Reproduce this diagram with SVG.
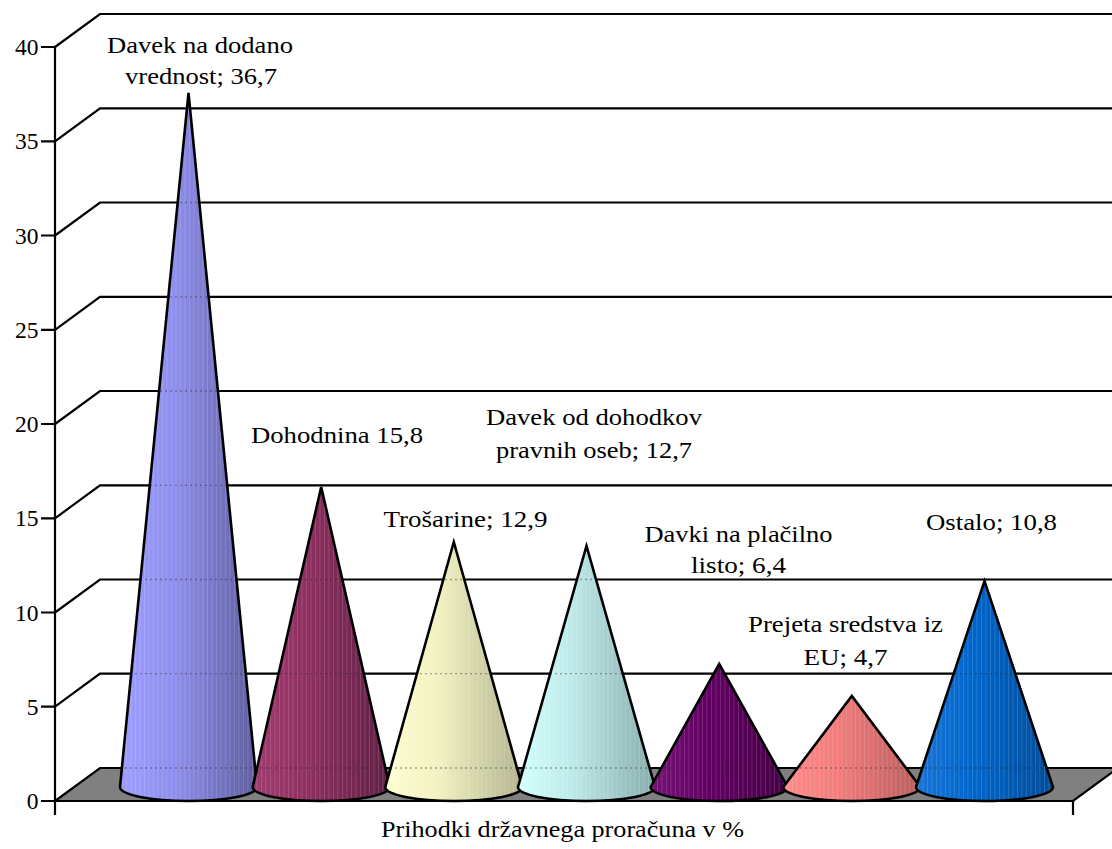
<svg xmlns="http://www.w3.org/2000/svg" xmlns:xlink="http://www.w3.org/1999/xlink" width="1112" height="849" viewBox="0 0 1112 849">
<style>
.grid{fill:none;stroke:#000;stroke-width:2.2;stroke-linejoin:miter}
.outline{fill:none;stroke:#000;stroke-width:2.6;stroke-linejoin:miter}
.lbl{font-family:"Liberation Serif","Times New Roman",serif;font-size:23.5px;fill:#000}
.ax{font-family:"Liberation Serif","Times New Roman",serif;font-size:23.5px;fill:#000;text-anchor:end}
.dots{fill:none;stroke:#222;stroke-opacity:.4;stroke-width:1.3;stroke-dasharray:2 3}
</style>
<defs>
<pattern id="stripes" patternUnits="userSpaceOnUse" width="4.5" height="10">
<rect x="0" y="0" width="0.9" height="10" fill="#fff" fill-opacity="0.15"/>
</pattern>
<path id="dotlines" d="M0,768H1112M0,673.7H1112M0,579.5H1112M0,485.3H1112M0,391H1112M0,296.8H1112M0,202.5H1112M0,108.3H1112"/>
<linearGradient id="g1" x1="0" y1="0" x2="1" y2="0"><stop offset="0" stop-color="#9e9eff"/><stop offset="0.4" stop-color="#8e8eec"/><stop offset="1" stop-color="#5e5e9e"/></linearGradient>
<linearGradient id="g2" x1="0" y1="0" x2="1" y2="0"><stop offset="0" stop-color="#a23c70"/><stop offset="0.4" stop-color="#8e3060"/><stop offset="1" stop-color="#602044"/></linearGradient>
<linearGradient id="g3" x1="0" y1="0" x2="1" y2="0"><stop offset="0" stop-color="#ffffd2"/><stop offset="0.4" stop-color="#f0f0c0"/><stop offset="1" stop-color="#b4b490"/></linearGradient>
<linearGradient id="g4" x1="0" y1="0" x2="1" y2="0"><stop offset="0" stop-color="#d4ffff"/><stop offset="0.4" stop-color="#bee9e9"/><stop offset="1" stop-color="#88adad"/></linearGradient>
<linearGradient id="g5" x1="0" y1="0" x2="1" y2="0"><stop offset="0" stop-color="#761476"/><stop offset="0.4" stop-color="#640064"/><stop offset="1" stop-color="#440044"/></linearGradient>
<linearGradient id="g6" x1="0" y1="0" x2="1" y2="0"><stop offset="0" stop-color="#ff8c8c"/><stop offset="0.4" stop-color="#f27c7c"/><stop offset="1" stop-color="#b85e5e"/></linearGradient>
<linearGradient id="g7" x1="0" y1="0" x2="1" y2="0"><stop offset="0" stop-color="#1a74d6"/><stop offset="0.4" stop-color="#0066cc"/><stop offset="1" stop-color="#004c98"/></linearGradient>
<path id="p1" d="M120,787 A68.5,14 0 0 0 257,787 L188.5,93 Z"/>
<path id="p2" d="M252.7,787 A68.5,14 0 0 0 389.7,787 L321.2,487 Z"/>
<path id="p3" d="M385.3,787 A68.5,14 0 0 0 522.3,787 L453.8,542 Z"/>
<path id="p4" d="M518,787 A68.5,14 0 0 0 655,787 L586.5,546 Z"/>
<path id="p5" d="M650.7,787 A68.5,14 0 0 0 787.7,787 L719.2,664 Z"/>
<path id="p6" d="M783.3,787 A68.5,14 0 0 0 920.3,787 L851.8,696 Z"/>
<path id="p7" d="M916,787 A68.5,14 0 0 0 1053,787 L984.5,581 Z"/>
<clipPath id="c1"><use xlink:href="#p1"/></clipPath>
<clipPath id="c2"><use xlink:href="#p2"/></clipPath>
<clipPath id="c3"><use xlink:href="#p3"/></clipPath>
<clipPath id="c4"><use xlink:href="#p4"/></clipPath>
<clipPath id="c5"><use xlink:href="#p5"/></clipPath>
<clipPath id="c6"><use xlink:href="#p6"/></clipPath>
<clipPath id="c7"><use xlink:href="#p7"/></clipPath>
</defs>
<rect x="0" y="0" width="1112" height="849" fill="#fff"/>

<g id="floor">
<path d="M55,801 L1073,801 L1118,768 L100,768 Z" fill="#808080" stroke="#000" stroke-width="2.2"/>
</g>

<g id="gridlines">
<path class="grid" d="M55,706.7 L100,673.7 H1112 M55,612.5 L100,579.5 H1112 M55,518.3 L100,485.3 H1112 M55,424 L100,391 H1112 M55,329.8 L100,296.8 H1112 M55,235.5 L100,202.5 H1112 M55,141.3 L100,108.3 H1112 M55,47 L100,14 H1112"/>
</g>

<g id="axes">
<path class="grid" d="M55,47 V815 M55,801 H1073 V815 M41,801 H55 M41,706.7 H55 M41,612.5 H55 M41,518.3 H55 M41,424 H55 M41,329.8 H55 M41,235.5 H55 M41,141.3 H55 M41,47 H55"/>
<text class="ax" x="38.5" y="809">0</text>
<text class="ax" x="38.5" y="714.7">5</text>
<text class="ax" x="38.5" y="620.5">10</text>
<text class="ax" x="38.5" y="526.3">15</text>
<text class="ax" x="38.5" y="432">20</text>
<text class="ax" x="38.5" y="337.8">25</text>
<text class="ax" x="38.5" y="243.5">30</text>
<text class="ax" x="38.5" y="149.3">35</text>
<text class="ax" x="38.5" y="55">40</text>
<text class="lbl" x="381" y="837" textLength="363" lengthAdjust="spacingAndGlyphs">Prihodki državnega proračuna v %</text>
</g>

<g id="cone-ddv">
<use xlink:href="#p1" fill="url(#g1)"/>
<g clip-path="url(#c1)"><rect x="110" y="80" width="160" height="730" fill="url(#stripes)"/><use xlink:href="#dotlines" class="dots"/></g>
<use xlink:href="#p1" class="outline"/>
<text class="lbl" x="107" y="53" textLength="186" lengthAdjust="spacingAndGlyphs">Davek na dodano</text>
<text class="lbl" x="125" y="84" textLength="152" lengthAdjust="spacingAndGlyphs">vrednost; 36,7</text>
</g>

<g id="cone-dohodnina">
<use xlink:href="#p2" fill="url(#g2)"/>
<g clip-path="url(#c2)"><rect x="245" y="480" width="160" height="330" fill="url(#stripes)"/><use xlink:href="#dotlines" class="dots"/></g>
<use xlink:href="#p2" class="outline"/>
<text class="lbl" x="251" y="443" textLength="172" lengthAdjust="spacingAndGlyphs">Dohodnina 15,8</text>
</g>

<g id="cone-trosarine">
<use xlink:href="#p3" fill="url(#g3)"/>
<g clip-path="url(#c3)"><rect x="375" y="530" width="160" height="280" fill="url(#stripes)"/><use xlink:href="#dotlines" class="dots"/></g>
<use xlink:href="#p3" class="outline"/>
<text class="lbl" x="383.5" y="527" textLength="164" lengthAdjust="spacingAndGlyphs">Trošarine; 12,9</text>
</g>

<g id="cone-dohodki-po">
<use xlink:href="#p4" fill="url(#g4)"/>
<g clip-path="url(#c4)"><rect x="510" y="530" width="160" height="280" fill="url(#stripes)"/><use xlink:href="#dotlines" class="dots"/></g>
<use xlink:href="#p4" class="outline"/>
<text class="lbl" x="486" y="425" textLength="216" lengthAdjust="spacingAndGlyphs">Davek od dohodkov</text>
<text class="lbl" x="496" y="458" textLength="196" lengthAdjust="spacingAndGlyphs">pravnih oseb; 12,7</text>
</g>

<g id="cone-placilno">
<use xlink:href="#p5" fill="url(#g5)"/>
<g clip-path="url(#c5)"><rect x="640" y="650" width="160" height="160" fill="url(#stripes)"/><use xlink:href="#dotlines" class="dots"/></g>
<use xlink:href="#p5" class="outline"/>
<text class="lbl" x="644.5" y="542" textLength="188" lengthAdjust="spacingAndGlyphs">Davki na plačilno</text>
<text class="lbl" x="691" y="573" textLength="95" lengthAdjust="spacingAndGlyphs">listo; 6,4</text>
</g>

<g id="cone-eu">
<use xlink:href="#p6" fill="url(#g6)"/>
<g clip-path="url(#c6)"><rect x="775" y="680" width="160" height="130" fill="url(#stripes)"/><use xlink:href="#dotlines" class="dots"/></g>
<use xlink:href="#p6" class="outline"/>
<text class="lbl" x="748" y="632" textLength="195" lengthAdjust="spacingAndGlyphs">Prejeta sredstva iz</text>
<text class="lbl" x="803.5" y="665" textLength="84" lengthAdjust="spacingAndGlyphs">EU; 4,7</text>
</g>

<g id="cone-ostalo">
<use xlink:href="#p7" fill="url(#g7)"/>
<g clip-path="url(#c7)"><rect x="905" y="570" width="160" height="240" fill="url(#stripes)"/><use xlink:href="#dotlines" class="dots"/></g>
<use xlink:href="#p7" class="outline"/>
<text class="lbl" x="926" y="530" textLength="131" lengthAdjust="spacingAndGlyphs">Ostalo; 10,8</text>
</g>

<g id="connectors"></g>
</svg>
